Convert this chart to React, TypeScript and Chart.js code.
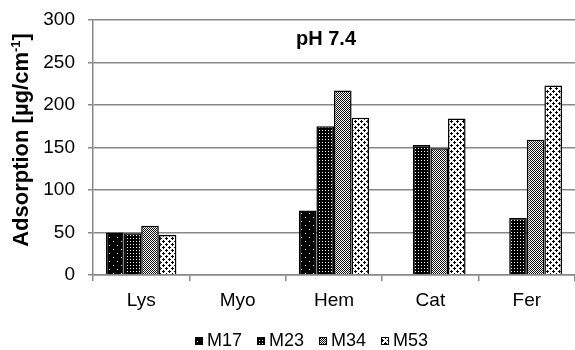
import React, { useEffect, useRef } from "react";
import { Chart, registerables } from "chart.js";

Chart.register(...registerables);

const categories = ["Lys", "Myo", "Hem", "Cat", "Fer"];
const seriesNames = ["M17", "M23", "M34", "M53"];
const m17 = [50, 0, 76, 0, 0];
const m23 = [49, 0, 175, 153, 67];
const m34 = [58, 0, 217, 149, 159];
const m53 = [47, 0, 185, 184, 223];
const yTicks = [0, 50, 100, 150, 200, 250, 300];
const chartTitle = "pH 7.4";
const yTitleMain = "Adsorption [µg/cm";
const yTitleSup = "-1";
const yTitleEnd = "]";

const FONT = "'Liberation Sans', Arial, sans-serif";
const AXIS_X = 93;
const X_AXIS_H = 35;
const BOTTOM_PAD = 40;

function makePattern(kind: number): CanvasPattern | string {
  const c = document.createElement("canvas");
  const ctx = c.getContext("2d")!;
  if (kind === 0) {
    c.width = 8; c.height = 8;
    ctx.fillStyle = "#000"; ctx.fillRect(0, 0, 8, 8);
    ctx.fillStyle = "#fff";
    ctx.fillRect(1, 1, 1, 1);
    ctx.fillRect(5, 5, 1, 1);
  } else if (kind === 1) {
    c.width = 3; c.height = 3;
    ctx.fillStyle = "#000"; ctx.fillRect(0, 0, 3, 3);
    ctx.fillStyle = "#fff";
    ctx.fillRect(1, 1, 1, 1);
  } else if (kind === 2) {
    c.width = 2; c.height = 2;
    ctx.fillStyle = "#fff"; ctx.fillRect(0, 0, 2, 2);
    ctx.fillStyle = "#111";
    ctx.fillRect(0, 0, 1, 1);
    ctx.fillRect(1, 1, 1, 1);
  } else {
    c.width = 6; c.height = 6;
    ctx.fillStyle = "#fff"; ctx.fillRect(0, 0, 6, 6);
    ctx.fillStyle = "#000";
    ctx.fillRect(0, 1, 3, 1); ctx.fillRect(1, 0, 1, 3);
    ctx.fillRect(3, 4, 3, 1); ctx.fillRect(4, 3, 1, 3);
  }
  return ctx.createPattern(c, "repeat") || "#000";
}

const textPlugin = {
  id: "extraText",
  afterDraw(chart: any) {
    const { ctx, chartArea } = chart;
    ctx.save();
    ctx.font = `bold 20px ${FONT}`;
    ctx.fillStyle = "#000";
    ctx.textAlign = "center";
    ctx.textBaseline = "middle";
    ctx.fillText(chartTitle, 326, chartArea.top + 19);

    // legend
    ctx.font = `18px ${FONT}`;
    ctx.textAlign = "left";
    let lx = 195;
    const ly = 341;
    chart.data.datasets.forEach((ds: any) => {
      ctx.fillStyle = ds.backgroundColor;
      ctx.fillRect(lx, ly - 4, 8, 8);
      ctx.strokeStyle = "#000";
      ctx.lineWidth = 1;
      ctx.strokeRect(lx + 0.5, ly - 3.5, 7, 7);
      ctx.fillStyle = "#000";
      ctx.fillText(ds.label, lx + 12, ly);
      lx += 12 + ctx.measureText(ds.label).width + 15;
    });
    ctx.restore();

    // y-axis title, rotated
    ctx.save();
    ctx.fillStyle = "#000";
    ctx.translate(22, 140);
    ctx.rotate(-Math.PI / 2);
    const mainFont = `bold 22px ${FONT}`;
    const supFont = `bold 13px ${FONT}`;
    ctx.font = mainFont;
    const w1 = ctx.measureText(yTitleMain).width;
    const w3 = ctx.measureText(yTitleEnd).width;
    ctx.font = supFont;
    const w2 = ctx.measureText(yTitleSup).width;
    const total = w1 + w2 + w3;
    let x = -total / 2;
    ctx.textAlign = "left";
    ctx.textBaseline = "middle";
    ctx.font = mainFont;
    ctx.fillText(yTitleMain, x, 0);
    x += w1;
    ctx.font = supFont;
    ctx.fillText(yTitleSup, x, -6);
    x += w2;
    ctx.font = mainFont;
    ctx.fillText(yTitleEnd, x, 0);
    ctx.restore();
  },
};

export default function App() {
  const ref = useRef<HTMLCanvasElement>(null);
  useEffect(() => {
    document.body.style.margin = "0";
    const series = [m17, m23, m34, m53];
    const chart = new Chart(ref.current!, {
      type: "bar",
      data: {
        labels: categories,
        datasets: series.map((d, i) => ({
          label: seriesNames[i],
          data: d,
          backgroundColor: makePattern(i) as any,
          borderColor: "#000",
          borderWidth: 1.5,
          categoryPercentage: 0.73,
          barPercentage: 1,
        })),
      },
      options: {
        animation: false,
        responsive: false,
        devicePixelRatio: 1,
        layout: { padding: { top: 20, right: 0, left: 0, bottom: BOTTOM_PAD } },
        plugins: {
          legend: { display: false },
          tooltip: { enabled: false },
        },
        scales: {
          x: {
            afterFit: (scale: any) => { scale.height = X_AXIS_H; scale.paddingLeft = 0; scale.paddingRight = 0; },
            grid: { drawOnChartArea: false, drawTicks: true, tickLength: 6, color: "#888", lineWidth: 1.5, offset: true },
            border: { color: "#888", width: 1.5 },
            ticks: { color: "#000", padding: 8, font: { size: 19, family: FONT } },
          },
          y: {
            min: 0,
            max: 300,
            afterBuildTicks: (scale: any) => { scale.ticks = yTicks.map((v) => ({ value: v })); },
            afterFit: (scale: any) => { scale.width = AXIS_X; scale.paddingTop = 0; scale.paddingBottom = 0; },
            grid: { color: "#888", lineWidth: 1.5, tickLength: 5 },
            border: { color: "#888", width: 1.5 },
            ticks: { color: "#000", padding: 13, font: { size: 19, family: FONT } },
          },
        },
      },
      plugins: [textPlugin],
    });
    return () => chart.destroy();
  }, []);
  return <canvas ref={ref} width={575} height={350} style={{ display: "block" }} />;
}
